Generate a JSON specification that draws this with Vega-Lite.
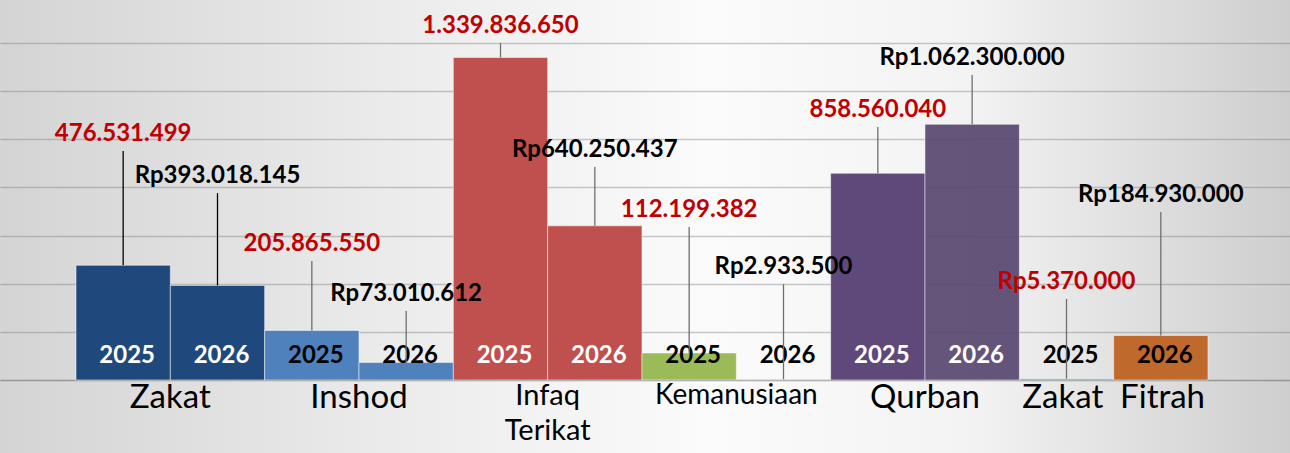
{
  "$schema": "https://vega.github.io/schema/vega-lite/v6.json",
  "width": 1290,
  "height": 453,
  "autosize": {"type": "none"},
  "padding": 0,
  "background": "#e2e2e2",
  "config": {
    "view": {
      "stroke": null,
      "fill": {
        "gradient": "linear",
        "x1": 0, "y1": 0, "x2": 1, "y2": 0,
        "stops": [
          {"offset": 0, "color": "#d4d4d4"},
          {"offset": 0.3, "color": "#ebebeb"},
          {"offset": 0.55, "color": "#fbfbfb"},
          {"offset": 0.75, "color": "#f3f3f3"},
          {"offset": 1, "color": "#cecece"}
        ]
      }
    },
    "locale": {"number": {"decimal": ",", "thousands": ".", "grouping": [3], "currency": ["Rp", ""]}},
    "font": "Lato"
  },
  "data": {
    "values": [
      {"category": "Zakat", "year": "2025", "value": 476531499, "calloutAt": 1022000000},
      {"category": "Zakat", "year": "2026", "value": 393018145, "calloutAt": 847000000},
      {"category": "Inshod", "year": "2025", "value": 205865550, "calloutAt": 565000000},
      {"category": "Inshod", "year": "2026", "value": 73010612, "calloutAt": 357000000},
      {"category": "Infaq Terikat", "year": "2025", "value": 1339836650, "calloutAt": 1471000000},
      {"category": "Infaq Terikat", "year": "2026", "value": 640250437, "calloutAt": 955000000},
      {"category": "Kemanusiaan", "year": "2025", "value": 112199382, "calloutAt": 706000000},
      {"category": "Kemanusiaan", "year": "2026", "value": 2933500, "calloutAt": 469000000},
      {"category": "Qurban", "year": "2025", "value": 858560040, "calloutAt": 1122000000},
      {"category": "Qurban", "year": "2026", "value": 1062300000, "calloutAt": 1338000000},
      {"category": "Zakat Fitrah", "year": "2025", "value": 5370000, "calloutAt": 407000000},
      {"category": "Zakat Fitrah", "year": "2026", "value": 184930000, "calloutAt": 768000000}
    ]
  },
  "encoding": {
    "x": {
      "field": "category",
      "type": "nominal",
      "sort": null,
      "scale": {"paddingInner": 0, "paddingOuter": 0.41875, "align": 0.481},
      "axis": {
        "title": null,
        "orient": "bottom",
        "offset": -73,
        "domain": false,
        "ticks": false,
        "labelAngle": 0,
        "labelLimit": 0,
        "labelPadding": 1,
        "labelColor": "#000000",
        "labelFont": "Lato",
        "labelLineHeight": 35,
        "labelFontSize": {
          "condition": [
            {"test": "datum.value === 'Kemanusiaan'", "value": 28},
            {"test": "datum.value === 'Infaq Terikat'", "value": 29}
          ],
          "value": 33
        },
        "labelExpr": "datum.value === 'Infaq Terikat' ? ['Infaq', 'Terikat'] : (datum.value === 'Zakat Fitrah' ? 'Zakat\u00a0\u00a0Fitrah' : datum.value)"
      }
    },
    "xOffset": {"field": "year", "type": "nominal", "scale": {"paddingInner": 0, "paddingOuter": 0}}
  },
  "layer": [
    {
      "mark": {"type": "bar", "stroke": "#ffffff", "strokeOpacity": 0.5, "strokeWidth": 1},
      "encoding": {
        "y": {
          "field": "value",
          "type": "quantitative",
          "scale": {"domain": [-303300000, 1578600000], "nice": false, "zero": false},
          "axis": {
            "title": null,
            "values": [0, 200000000, 400000000, 600000000, 800000000, 1000000000, 1200000000, 1400000000],
            "labels": false,
            "ticks": false,
            "domain": false,
            "grid": true,
            "gridWidth": 1.5,
            "gridColor": {"condition": {"test": "datum.value === 0", "value": "#8c8c8c"}, "value": "#7a7a7a"},
            "gridOpacity": {"condition": {"test": "datum.value === 0", "value": 0.85}, "value": 0.4}
          }
        },
        "y2": {"datum": 0},
        "color": {
          "condition": [
            {"test": "datum.category === 'Qurban' && datum.year === '2026'", "value": "#56446e"},
            {"test": "datum.category === 'Zakat Fitrah' && datum.year === '2025'", "value": "#4bacc6"}
          ],
          "field": "category",
          "type": "nominal",
          "scale": {
            "domain": ["Zakat", "Inshod", "Infaq Terikat", "Kemanusiaan", "Qurban", "Zakat Fitrah"],
            "range": ["#1f497d", "#4f81bd", "#c0504d", "#9bbb59", "#5f497a", "#c0692c"]
          },
          "legend": null
        },
        "opacity": {"condition": {"test": "datum.category === 'Qurban' && datum.year === '2026'", "value": 0.9}, "value": 1}
      }
    },
    {
      "mark": {"type": "text", "baseline": "alphabetic", "dy": -17, "dx": 4, "fontSize": 24, "fontWeight": "bold", "font": "Lato"},
      "encoding": {
        "y": {"datum": 0, "type": "quantitative", "scale": {"domain": [-303300000, 1578600000], "nice": false, "zero": false}},
        "text": {"field": "year"},
        "color": {
          "condition": {"test": "datum.category === 'Zakat' || datum.category === 'Infaq Terikat' || datum.category === 'Qurban'", "value": "#ffffff"},
          "value": "#000000"
        }
      }
    },
    {
      "mark": {"type": "rule", "yOffset": 17, "strokeWidth": 1.3},
      "encoding": {
        "y": {"field": "calloutAt", "type": "quantitative", "scale": {"domain": [-303300000, 1578600000], "nice": false, "zero": false}},
        "y2": {"field": "value"},
        "color": {"condition": {"test": "datum.category === 'Zakat'", "value": "#000000"}, "value": "#6f6f6f"}
      }
    },
    {
      "mark": {"type": "text", "baseline": "middle", "fontSize": 24, "fontWeight": "bold", "font": "Lato"},
      "encoding": {
        "y": {"field": "calloutAt", "type": "quantitative", "scale": {"domain": [-303300000, 1578600000], "nice": false, "zero": false}},
        "text": {
          "condition": {"test": "datum.year === '2026' || datum.category === 'Zakat Fitrah'", "field": "value", "type": "quantitative", "format": "$,.0f"},
          "field": "value",
          "type": "quantitative",
          "format": ",.0f"
        },
        "color": {"condition": {"test": "datum.year === '2025'", "value": "#c00000"}, "value": "#000000"}
      }
    }
  ]
}
